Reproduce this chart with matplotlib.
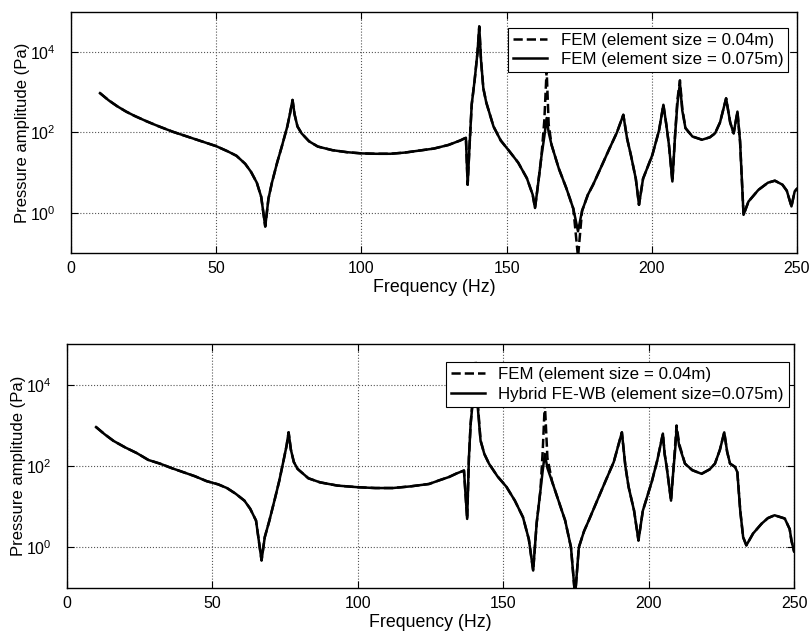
import numpy as np
import matplotlib
matplotlib.use('Agg')
import matplotlib.pyplot as plt

plt.rcParams['font.family'] = ['Liberation Sans', 'DejaVu Sans']
plt.rcParams['mathtext.fontset'] = 'custom'
plt.rcParams['mathtext.rm'] = 'Liberation Sans'
plt.rcParams['mathtext.it'] = 'Liberation Sans'
plt.rcParams['mathtext.default'] = 'regular'

# frequencies (Hz) and log10 of pressure amplitude (Pa)
freq_top = [10, 13, 16, 19, 22, 26, 30, 35, 40, 45, 50, 54, 57, 60, 62, 64, 65.5, 66.9, 68, 69.2,
            71, 72.6, 74.5, 75.5, 76.3, 77, 78, 79.4, 82, 85, 90, 95, 100, 105, 110, 115, 120, 125,
            130, 134, 136, 136.6, 137.2, 138, 139, 140, 140.6, 141.2, 142, 143, 145.5, 148, 151,
            154, 157, 159, 159.8, 161, 162, 163, 163.8, 164.5, 165.5, 168, 170.6, 173, 174.6, 176,
            178, 179.8, 182, 185.5, 188, 190.2, 191.5, 192.8, 194.5, 195.6, 197, 200.2, 202.5, 204,
            205, 205.9, 207.1, 208, 208.8, 209.7, 210.5, 211.6, 214, 217.3, 220, 221.8, 223.5,
            225.6, 227, 228.2, 229.5, 230.4, 231.6, 233.3, 236.7, 240, 242.4, 245, 246.5, 248.1,
            249.2, 250]
fem_coarse_top = [2.98, 2.80, 2.65, 2.52, 2.41, 2.28, 2.16, 2.02, 1.90, 1.78, 1.66, 1.53, 1.42, 1.22,
                  1.02, 0.75, 0.40, -0.34, 0.35, 0.75, 1.25, 1.65, 2.15, 2.50, 2.81, 2.45, 2.15, 1.98,
                  1.78, 1.65, 1.56, 1.51, 1.48, 1.47, 1.47, 1.50, 1.55, 1.60, 1.69, 1.80, 1.87, 0.70,
                  1.60, 2.70, 3.30, 4.00, 4.64, 3.80, 3.10, 2.75, 2.15, 1.80, 1.53, 1.25, 0.86, 0.45,
                  0.12, 0.80, 1.40, 1.90, 2.36, 2.00, 1.69, 1.10, 0.61, 0.10, -0.46, 0.05, 0.45, 0.70,
                  1.05, 1.61, 2.00, 2.44, 1.85, 1.44, 0.85, 0.20, 0.85, 1.44, 2.05, 2.69, 2.20, 1.70,
                  0.78, 1.90, 2.69, 3.23, 2.55, 2.11, 1.90, 1.82, 1.88, 1.98, 2.25, 2.85, 2.25, 1.98,
                  2.52, 1.78, -0.05, 0.28, 0.57, 0.75, 0.80, 0.70, 0.55, 0.16, 0.53, 0.60]
fem_fine_top = [2.98, 2.80, 2.65, 2.52, 2.41, 2.28, 2.16, 2.02, 1.90, 1.78, 1.66, 1.53, 1.42, 1.22,
                1.02, 0.75, 0.40, -0.34, 0.35, 0.75, 1.25, 1.65, 2.15, 2.50, 2.81, 2.45, 2.15, 1.98,
                1.78, 1.65, 1.56, 1.51, 1.48, 1.47, 1.47, 1.50, 1.55, 1.60, 1.69, 1.80, 1.87, 0.70,
                1.60, 2.70, 3.30, 4.00, 4.64, 3.80, 3.10, 2.75, 2.15, 1.80, 1.53, 1.25, 0.86, 0.45,
                0.12, 0.80, 1.40, 2.30, 3.56, 2.20, 1.69, 1.10, 0.61, 0.10, -1.10, 0.05, 0.45, 0.70,
                1.05, 1.61, 2.00, 2.44, 1.85, 1.44, 0.85, 0.20, 0.85, 1.44, 2.05, 2.69, 2.20, 1.70,
                0.78, 1.90, 2.80, 3.30, 2.60, 2.11, 1.90, 1.82, 1.88, 1.98, 2.25, 2.85, 2.25, 1.98,
                2.52, 1.78, -0.05, 0.28, 0.57, 0.75, 0.80, 0.70, 0.55, 0.16, 0.53, 0.60]

freq_bot = [10, 13, 16, 20, 24, 28, 32, 36, 40, 44, 48, 52, 55, 58, 61, 63, 65, 66.9, 68, 69.6,
            71.5, 73, 74.5, 75.5, 76.2, 77, 78, 79.3, 83, 87, 93, 100, 106, 112, 118, 124.5, 128,
            131.3, 134, 136.5, 137.6, 138.2, 138.8, 139.8, 140.5, 141.3, 142.2, 143.5, 145.1, 148,
            151.1, 154, 156.8, 158.8, 160.3, 161.5, 162.8, 163.6, 164.3, 165.2, 166.8, 169, 171.3,
            173.3, 174.7, 176, 177.8, 179.4, 182, 185.1, 188, 190.8, 192, 193.1, 195, 196.5, 198,
            201.1, 203, 204.9, 205.5, 206.2, 207.7, 208.5, 209.1, 209.6, 210.5, 212.5, 215, 218.2,
            221, 222.8, 224.5, 226, 227, 228, 229.7, 230.5, 231.5, 232.5, 233.6, 235.9, 238.8, 241,
            243.3, 246.8, 248.5, 249.1, 250]
hybrid_bot = [2.96, 2.78, 2.62, 2.46, 2.32, 2.15, 2.06, 1.95, 1.85, 1.75, 1.63, 1.55, 1.46, 1.32, 1.15,
              0.95, 0.66, -0.32, 0.25, 0.66, 1.20, 1.64, 2.15, 2.50, 2.83, 2.40, 2.10, 1.93, 1.70,
              1.60, 1.52, 1.48, 1.46, 1.46, 1.50, 1.56, 1.65, 1.73, 1.82, 1.89, 0.70, 2.20, 3.04,
              3.80, 4.50, 3.40, 2.63, 2.30, 2.06, 1.75, 1.49, 1.15, 0.74, 0.20, -0.57, 0.60, 1.40,
              1.90, 2.30, 1.95, 1.62, 1.15, 0.66, 0.00, -1.20, 0.00, 0.40, 0.66, 1.10, 1.62, 2.10,
              2.83, 2.00, 1.49, 0.90, 0.17, 0.90, 1.62, 2.15, 2.80, 2.30, 1.98, 1.15, 1.90, 2.38,
              2.92, 2.50, 2.06, 1.90, 1.81, 1.92, 2.06, 2.40, 2.83, 2.35, 2.06, 1.98, 1.85, 0.90,
              0.25, 0.05, 0.34, 0.58, 0.72, 0.79, 0.71, 0.45, 0.17, -0.10]
fem_fine_bot = [2.96, 2.78, 2.62, 2.46, 2.32, 2.15, 2.06, 1.95, 1.85, 1.75, 1.63, 1.55, 1.46, 1.32, 1.15,
                0.95, 0.66, -0.32, 0.25, 0.66, 1.20, 1.64, 2.15, 2.50, 2.83, 2.40, 2.10, 1.93, 1.70,
                1.60, 1.52, 1.48, 1.46, 1.46, 1.50, 1.56, 1.65, 1.73, 1.82, 1.89, 0.70, 2.20, 3.04,
                3.90, 4.60, 3.50, 2.63, 2.30, 2.06, 1.75, 1.49, 1.15, 0.74, 0.20, -0.57, 0.60, 1.40,
                2.40, 3.55, 2.20, 1.62, 1.15, 0.66, 0.00, -1.20, 0.00, 0.40, 0.66, 1.10, 1.62, 2.10,
                2.83, 2.00, 1.49, 0.90, 0.17, 0.90, 1.62, 2.15, 2.80, 2.30, 1.98, 1.15, 1.90, 2.50,
                3.00, 2.55, 2.06, 1.90, 1.81, 1.92, 2.06, 2.40, 2.83, 2.35, 2.06, 1.98, 1.85, 0.90,
                0.25, 0.05, 0.34, 0.58, 0.72, 0.79, 0.71, 0.45, 0.17, -0.10]

xticks = [0, 50, 100, 150, 200, 250]
yticks = [1e0, 1e2, 1e4]
ytick_labels = ['$10^0$', '$10^2$', '$10^4$']

fig = plt.figure(figsize=(8.11, 6.35), dpi=100)
ax1 = fig.add_axes([0.0875, 0.6016, 0.8952, 0.3795])
ax2 = fig.add_axes([0.0826, 0.074, 0.8965, 0.384])

panels = [
    (ax1, freq_top, fem_fine_top, fem_coarse_top, 'FEM (element size = 0.075m)', (0.988, 0.934)),
    (ax2, freq_bot, fem_fine_bot, hybrid_bot, 'Hybrid FE-WB (element size=0.075m)', (0.993, 0.926)),
]

for ax, f, dashed, solid, solid_label, leg_anchor in panels:
    ax.semilogy(f, 10 ** np.array(dashed), color='black', ls='--', lw=1.8,
                label='FEM (element size = 0.04m)')
    ax.semilogy(f, 10 ** np.array(solid), color='black', ls='-', lw=1.8,
                label=solid_label)
    ax.set_xlim(0, 250)
    ax.set_ylim(1e-1, 1e5)
    ax.set_xticks(xticks)
    ax.set_yticks(yticks)
    ax.set_yticklabels(ytick_labels)
    ax.yaxis.set_minor_locator(matplotlib.ticker.NullLocator())
    ax.tick_params(direction='in', top=True, right=True, length=5, width=0.8, labelsize=11.5)
    ax.tick_params(axis='x', pad=6)
    ax.tick_params(axis='y', pad=11)
    ax.grid(True, ls=':', color='#555555', lw=0.8)
    for s in ax.spines.values():
        s.set_linewidth(1.0)
    ax.set_xlabel('Frequency (Hz)', fontsize=12.8, labelpad=2)
    ax.set_ylabel('Pressure amplitude (Pa)', fontsize=12, labelpad=0)
    leg = ax.legend(loc='upper right', bbox_to_anchor=leg_anchor, fontsize=12.2,
                    fancybox=False, framealpha=1, edgecolor='black', handlelength=2.0,
                    borderaxespad=0, labelspacing=0.25, borderpad=0.3)
    leg.get_frame().set_linewidth(0.8)
    leg.set_zorder(5)

fig.savefig('out.png', dpi=100)
